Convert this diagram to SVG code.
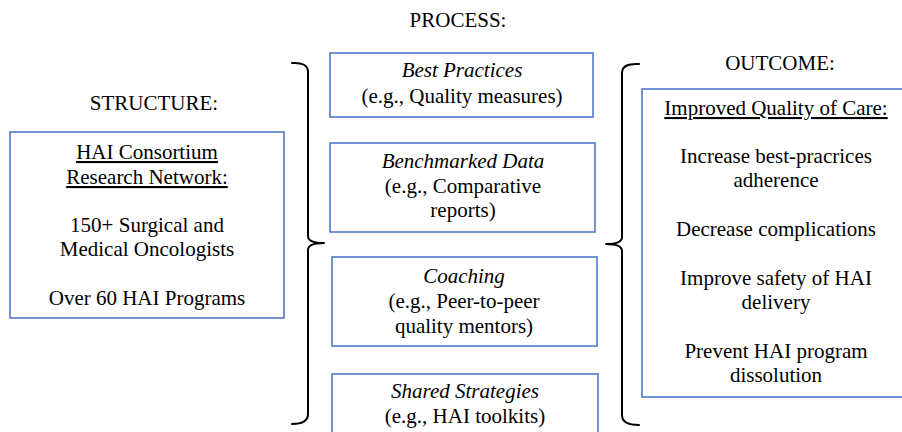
<svg xmlns="http://www.w3.org/2000/svg" width="902" height="432" viewBox="0 0 902 432">
  <style>
    .box { fill: #ffffff; stroke: #4472C4; stroke-width: 1.5; }
    .brace { fill: none; stroke: #000000; stroke-width: 2; stroke-linecap: round; stroke-linejoin: round; }
    text { font-size: 21px; fill: #000000; text-anchor: middle; }
    .it { font-style: italic; }
    .ul { text-decoration: underline; }
  </style>
  <rect width="902" height="432" fill="#ffffff"/>

  <g font-family="'Liberation Serif', 'Times New Roman', Tinos, 'DejaVu Serif', serif">
  <!-- Column headings -->
  <g id="headings">
    <text x="154" y="110">STRUCTURE:</text>
    <text x="458" y="27">PROCESS:</text>
    <text x="780" y="70">OUTCOME:</text>
  </g>

  <!-- Structure -->
  <g id="structure">
    <rect class="box" x="10" y="132" width="274" height="186"/>
    <text x="147" y="159" class="ul">HAI Consortium</text>
    <text x="147" y="184" class="ul">Research Network:</text>
    <text x="147" y="232">150+ Surgical and</text>
    <text x="147" y="256">Medical Oncologists</text>
    <text x="147" y="305">Over 60 HAI Programs</text>
  </g>

  <!-- Process items -->
  <g id="best-practices">
    <rect class="box" x="330" y="53" width="263" height="64"/>
    <text x="462" y="77" class="it">Best Practices</text>
    <text x="462" y="103">(e.g., Quality measures)</text>
  </g>
  <g id="benchmarked-data">
    <rect class="box" x="330" y="143" width="265" height="89"/>
    <text x="463" y="168" class="it">Benchmarked Data</text>
    <text x="463" y="193">(e.g., Comparative</text>
    <text x="463" y="217">reports)</text>
  </g>
  <g id="coaching">
    <rect class="box" x="332" y="257" width="265" height="89"/>
    <text x="464" y="283" class="it">Coaching</text>
    <text x="464" y="308">(e.g., Peer-to-peer</text>
    <text x="464" y="333">quality mentors)</text>
  </g>
  <g id="shared-strategies">
    <rect class="box" x="332" y="374" width="266" height="80"/>
    <text x="465" y="398" class="it">Shared Strategies</text>
    <text x="465" y="423">(e.g., HAI toolkits)</text>
  </g>

  <!-- Outcome -->
  <g id="outcome">
    <rect class="box" x="642" y="89" width="270" height="308"/>
    <text x="776" y="115" class="ul">Improved Quality of Care:</text>
    <text x="776" y="163">Increase best-pracrices</text>
    <text x="776" y="187">adherence</text>
    <text x="776" y="236">Decrease complications</text>
    <text x="776" y="285">Improve safety of HAI</text>
    <text x="776" y="309">delivery</text>
    <text x="776" y="358">Prevent HAI program</text>
    <text x="776" y="382">dissolution</text>
  </g>
  </g>

  <!-- Braces joining the columns -->
  <g id="connectors">
    <path class="brace" d="M292,63 Q308,62 308,72 V236 Q308,243 324,243 Q308,243 308,250 V414 Q308,424 292,424"/>
    <path class="brace" d="M639,64 Q622,63 622,73 V237 Q622,244 606,244 Q622,244 622,251 V415 Q622,425 639,425"/>
  </g>
</svg>
